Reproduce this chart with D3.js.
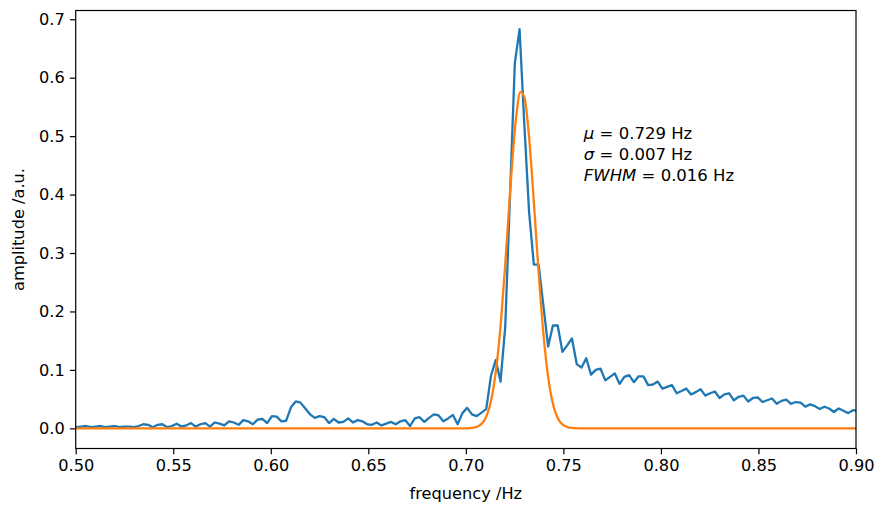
<!DOCTYPE html>
<html><head><meta charset="utf-8">
<script src="https://cdn.jsdelivr.net/npm/d3@7"></script>
<style>
html,body{margin:0;padding:0;background:#fff;}
svg{display:block;font-family:"DejaVu Sans",sans-serif;}
</style></head>
<body>
<svg id="chart" width="879" height="506"></svg>
<script>
// FFT frequency bins (Hz)
const frequency = [
0.49805,0.50049,0.50293,0.50537,0.50781,0.51025,0.51270,0.51514,0.51758,0.52002,
0.52246,0.52490,0.52734,0.52979,0.53223,0.53467,0.53711,0.53955,0.54199,0.54443,
0.54688,0.54932,0.55176,0.55420,0.55664,0.55908,0.56152,0.56396,0.56641,0.56885,
0.57129,0.57373,0.57617,0.57861,0.58105,0.58350,0.58594,0.58838,0.59082,0.59326,
0.59570,0.59814,0.60059,0.60303,0.60547,0.60791,0.61035,0.61279,0.61523,0.61768,
0.62012,0.62256,0.62500,0.62744,0.62988,0.63232,0.63477,0.63721,0.63965,0.64209,
0.64453,0.64697,0.64941,0.65186,0.65430,0.65674,0.65918,0.66162,0.66406,0.66650,
0.66895,0.67139,0.67383,0.67627,0.67871,0.68115,0.68359,0.68604,0.68848,0.69092,
0.69336,0.69580,0.69824,0.70068,0.70313,0.70557,0.70801,0.71045,0.71289,0.71533,
0.71777,0.72021,0.72266,0.72510,0.72754,0.72998,0.73242,0.73486,0.73730,0.73975,
0.74219,0.74463,0.74707,0.74951,0.75195,0.75439,0.75684,0.75928,0.76172,0.76416,
0.76660,0.76904,0.77148,0.77393,0.77637,0.77881,0.78125,0.78369,0.78613,0.78857,
0.79102,0.79346,0.79590,0.79834,0.80078,0.80322,0.80566,0.80811,0.81055,0.81299,
0.81543,0.81787,0.82031,0.82275,0.82520,0.82764,0.83008,0.83252,0.83496,0.83740,
0.83984,0.84229,0.84473,0.84717,0.84961,0.85205,0.85449,0.85693,0.85938,0.86182,
0.86426,0.86670,0.86914,0.87158,0.87402,0.87646,0.87891,0.88135,0.88379,0.88623,
0.88867,0.89111,0.89355,0.89600,0.89844,0.90088];

// measured spectrum amplitude (a.u.)
const amplitude = [
0.002,0.002,0.003,0.004,0.002,0.003,0.004,0.002,0.003,0.004,
0.002,0.003,0.003,0.002,0.004,0.007,0.006,0.002,0.006,0.007,
0.002,0.004,0.008,0.003,0.005,0.009,0.003,0.007,0.009,0.003,
0.010,0.008,0.005,0.012,0.010,0.006,0.014,0.012,0.007,0.015,
0.016,0.009,0.021,0.020,0.012,0.013,0.036,0.046,0.044,0.034,
0.024,0.018,0.021,0.019,0.009,0.016,0.010,0.011,0.017,0.010,
0.014,0.012,0.007,0.006,0.010,0.005,0.008,0.011,0.007,0.012,
0.014,0.004,0.017,0.019,0.011,0.018,0.024,0.022,0.012,0.017,
0.023,0.007,0.026,0.035,0.024,0.021,0.027,0.033,0.090,0.117,
0.080,0.175,0.400,0.625,0.683,0.520,0.370,0.280,0.280,0.210,
0.140,0.176,0.176,0.131,0.142,0.154,0.110,0.104,0.120,0.092,
0.100,0.102,0.082,0.088,0.094,0.076,0.088,0.091,0.079,0.089,
0.089,0.074,0.075,0.080,0.068,0.071,0.074,0.060,0.064,0.068,
0.058,0.062,0.067,0.056,0.060,0.063,0.052,0.058,0.060,0.048,
0.054,0.056,0.046,0.052,0.053,0.045,0.048,0.051,0.042,0.047,
0.049,0.042,0.045,0.044,0.037,0.041,0.038,0.033,0.037,0.034,
0.028,0.034,0.030,0.026,0.031,0.030];

// Gaussian fit curve, sampled
const fitFrequency = [0.498,0.690,0.700,0.702,0.704,0.706,0.708,0.710,0.712,0.714,0.716,0.718,0.720,0.722,0.724,0.726,0.728,0.730,0.732,0.734,0.736,0.738,0.740,0.742,0.744,0.746,0.748,0.750,0.752,0.754,0.758,0.770,0.901];
const fitAmplitude = [0,0,0.0001,0.0004,0.0012,0.0032,0.0076,0.0169,0.0347,0.0657,0.1144,0.1836,0.2718,0.3706,0.4658,0.5395,0.5759,0.5666,0.5137,0.4293,0.3306,0.2346,0.1535,0.0925,0.0514,0.0263,0.0124,0.0054,0.0022,0.0008,0.0001,0,0];

const xTicks = [0.50,0.55,0.60,0.65,0.70,0.75,0.80,0.85,0.90];
const yTicks = [0.0,0.1,0.2,0.3,0.4,0.5,0.6,0.7];
const annotationLines = [
  {sym:"μ", text:"0.729 Hz"},
  {sym:"σ", text:"0.007 Hz"},
  {sym:"FWHM", text:"0.016 Hz"}
];

const svg = d3.select("#chart");
const L = 75.7, R = 856, T = 10.5, B = 448.5;
const x = d3.scaleLinear().domain([0.5, 0.9]).range([L, R]);
const y = d3.scaleLinear().domain([-0.0345, 0.7150]).range([B, T]);
const FS = 16.2;

svg.append("defs").append("clipPath").attr("id","clip")
  .append("rect").attr("x",L).attr("y",T).attr("width",R-L).attr("height",B-T);

const blue = "#1f77b4", orange = "#ff7f0e";
const g = svg.append("g").attr("clip-path","url(#clip)");
const line = d3.line().x(d=>x(d[0])).y(d=>y(d[1]));
g.append("path").datum(frequency.map((f,i)=>[f,amplitude[i]]))
  .attr("d", line).attr("fill","none").attr("stroke",blue)
  .attr("stroke-width",2.3).attr("stroke-linejoin","round").attr("stroke-linecap","square");
g.append("path").datum(fitFrequency.map((f,i)=>[f,fitAmplitude[i]]))
  .attr("d", d3.line().x(d=>x(d[0])).y(d=>y(d[1])).curve(d3.curveMonotoneX))
  .attr("fill","none").attr("stroke",orange)
  .attr("stroke-width",2.3).attr("stroke-linejoin","round").attr("stroke-linecap","square");

// axes
const xAxis = d3.axisBottom(x).tickValues(xTicks).tickFormat(d3.format(".2f")).tickSize(5.8).tickPadding(5.2);
const yAxis = d3.axisLeft(y).tickValues(yTicks).tickFormat(d3.format(".1f")).tickSize(5.8).tickPadding(5.2);
const gx = svg.append("g").attr("transform",`translate(0,${B})`).call(xAxis);
const gy = svg.append("g").attr("transform",`translate(${L},0)`).call(yAxis);
[gx,gy].forEach(a=>{
  a.select(".domain").remove();
  a.selectAll("line").attr("stroke","#000").attr("stroke-width",1.2);
  a.selectAll("text").attr("font-family","DejaVu Sans").attr("font-size",FS).attr("fill","#000");
});

// frame
svg.append("rect").attr("x",L).attr("y",T).attr("width",R-L).attr("height",B-T)
  .attr("fill","none").attr("stroke","#000").attr("stroke-width",1.2);

// labels
svg.append("text").attr("x",(L+R)/2).attr("y",498.5).attr("text-anchor","middle")
  .attr("font-size",FS).text("frequency /Hz");
svg.append("text").attr("transform",`translate(24,${(T+B)/2}) rotate(-90)`)
  .attr("text-anchor","middle").attr("font-size",FS).text("amplitude /a.u.");

// annotation
const ax = x(0.7605);
const AFS = 16.5;
annotationLines.forEach((l,i)=>{
  const t = svg.append("text").attr("x",ax).attr("y",139 + i*20.9).attr("font-size",AFS);
  t.append("tspan").attr("font-style","italic").text(l.sym);
  t.append("tspan").text(" = " + l.text);
});
</script>
</body></html>
